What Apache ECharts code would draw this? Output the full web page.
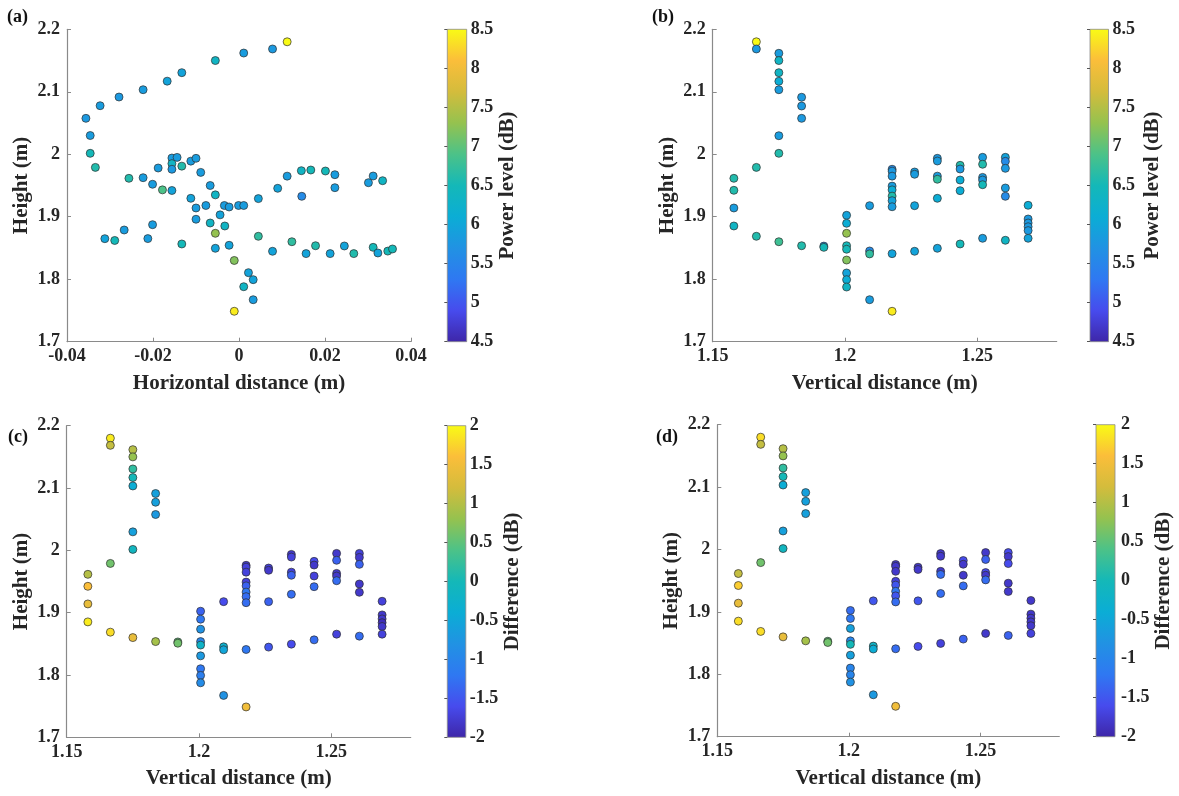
<!DOCTYPE html>
<html><head><meta charset="utf-8">
<script src="https://cdn.jsdelivr.net/npm/echarts@6/dist/echarts.min.js"></script>
<style>html,body{margin:0;padding:0;background:#fff}#c{width:1179px;height:796px}</style>
</head><body><div id="c"></div><script>
// ---------- DATA ----------
// Panel (a): horizontal distance vs height, power level
const horizX = [-0.0356,-0.0346,-0.0346,-0.0334,-0.0323,-0.0279,-0.0223,-0.0167,-0.0133,-0.0055,0.0011,0.0078,0.0112,
  -0.0256,-0.0223,-0.0201,-0.0178,-0.0156,-0.0188,-0.0156,-0.0156,-0.0156,-0.0144,-0.0133,-0.0112,-0.0100,-0.0089,-0.0067,-0.0055,
  -0.0112,-0.0100,-0.0100,-0.0077,-0.0067,-0.0044,-0.0034,-0.0023,-0.0001,-0.0033,-0.0055,-0.0055,-0.0023,-0.0011,-0.0011,
  -0.0312,-0.0289,-0.0267,-0.0212,-0.0201,-0.0133,
  0.0011,0.0045,0.0090,0.0146,0.0223,0.0301,0.0334,0.0045,0.0022,0.0033,0.0011,0.0033,
  0.0078,0.0123,0.0156,0.0178,0.0212,0.0245,0.0267,0.0312,0.0323,0.0346,0.0357,
  0.0112,0.0145,0.0167,0.0201,0.0223,0.0312];
const horizY = [2.0575,2.030,2.0015,1.979,2.0777,2.0916,2.1033,2.117,2.1306,2.150,2.162,2.1685,2.180,
  1.9615,1.9625,1.952,1.943,1.942,1.978,1.994,1.985,1.976,1.995,1.981,1.989,1.9935,1.971,1.950,1.935,
  1.9295,1.914,1.896,1.918,1.890,1.903,1.918,1.9156,1.918,1.8852,1.8735,1.8495,1.8543,1.830,1.7487,
  1.8649,1.862,1.8788,1.865,1.8873,1.8564,
  1.918,1.929,1.9455,1.9327,1.9465,1.9545,1.9577,1.8687,1.8105,1.7993,1.788,1.7672,
  1.8447,1.860,1.841,1.8536,1.841,1.8532,1.841,1.851,1.842,1.845,1.8484,
  1.965,1.9737,1.9748,1.9732,1.9673,1.9652];
const powerA = [5.8,5.85,6.5,6.6,5.85,5.8,5.85,5.95,5.95,6.35,5.85,5.8,8.5,
  6.6,5.85,5.85,6.9,5.95,5.85,5.85,6.35,5.8,5.85,6.6,5.85,5.85,5.85,5.85,6.35,
  5.95,5.85,5.85,5.85,6.35,5.95,5.85,5.85,5.85,6.35,7.3,5.95,5.95,7.2,8.4,
  5.95,6.5,5.85,5.85,5.85,6.5,
  5.85,5.95,5.95,5.6,5.85,5.85,6.35,6.7,5.95,5.95,6.35,5.85,
  5.95,6.7,5.95,6.6,5.95,5.95,6.6,6.5,5.95,6.5,6.5,
  5.85,6.35,6.5,6.5,5.85,5.85];

// Panels (b)-(d): vertical distance vs height
const vertX = [1.158,1.158,1.158,1.158, 1.1665,1.1665,1.1665,1.1665,
  1.175,1.175,1.175,1.175,1.175,1.175,1.175,1.175, 1.1836,1.1836,1.1836,1.1836, 1.192,1.192,
  1.2006,1.2006,1.2006,1.2006,1.2006,1.2006,1.2006,1.2006,1.2006, 1.2093,1.2093,1.2093,1.2093,
  1.2178,1.2178,1.2178,1.2178,1.2178,1.2178,1.2178,1.2178,1.2178,1.2178, 1.2263,1.2263,1.2263,1.2263,
  1.2349,1.2349,1.2349,1.2349,1.2349,1.2349, 1.2435,1.2435,1.2435,1.2435,1.2435,
  1.252,1.252,1.252,1.252,1.252,1.252, 1.2606,1.2606,1.2606,1.2606,1.2606,1.2606,
  1.2692,1.2692,1.2692,1.2692,1.2692,1.2692];
const vertY = [1.9615,1.9423,1.914,1.8852, 2.18,2.1685,1.979,1.8687,
  2.1616,2.15,2.1306,2.1168,2.1033,2.0297,2.0015,1.860, 2.0912,2.0772,2.0575,1.8536, 1.853,1.851,
  1.9023,1.8895,1.8735,1.8536,1.848,1.8307,1.810,1.7993,1.7875, 1.9177,1.8452,1.8405,1.7672,
  1.976,1.973,1.965,1.949,1.943,1.933,1.9257,1.916,1.8409,1.7487, 1.9716,1.968,1.9177,1.8447,
  1.9935,1.9892,1.965,1.96,1.9295,1.8495, 1.9823,1.9764,1.9588,1.9417,1.8564,
  1.9951,1.984,1.963,1.9588,1.9513,1.8655, 1.9951,1.9887,1.9775,1.946,1.9327,1.8623,
  1.9183,1.8964,1.89,1.884,1.8778,1.8655];
const powerB = [6.6,6.6,5.85,6.35, 8.5,5.8,6.6,6.6,
  5.85,6.35,6.35,6.1,5.85,5.85,6.6,6.8, 5.8,5.8,5.8,6.6, 5.6,6.5,
  5.95,6.1,7.3,6.5,6.5,7.2,5.95,6.1,6.35, 5.85,5.6,6.7,5.85,
  5.6,5.8,5.8,5.85,6.1,6.6,5.95,5.85,5.95,8.4, 5.85,5.85,5.95,5.95,
  5.8,5.85,5.85,6.7,6.1,5.95, 6.6,5.8,6.1,6.1,6.5,
  5.85,6.6,5.8,5.8,6.5,5.85, 5.95,5.6,5.8,5.85,5.6,6.35,
  6.1,5.8,5.8,5.8,5.8,5.95];
const diffC = [1.0,1.6,1.4,1.9, 1.9,1.1,0.6,1.8,
  1.0,0.8,0.2,0.0,-0.4,-0.6,-0.1,1.4, -0.6,-0.6,-0.7,0.9, 0.5,0.6,
  -1.4,-1.2,-0.8,-1.0,-0.2,-0.7,-1.2,-1.1,-0.9, -1.6,-0.3,-0.5,-0.8,
  -1.8,-1.7,-1.7,-1.7,-1.4,-1.2,-1.3,-1.3,-1.2,1.5, -1.7,-1.8,-1.4,-1.5,
  -1.8,-1.7,-1.7,-1.4,-1.3,-1.6, -1.6,-1.8,-1.7,-1.3,-1.3,
  -1.8,-1.4,-1.8,-1.8,-1.3,-1.7, -1.7,-1.8,-1.4,-1.8,-1.8,-1.3,
  -1.7,-1.8,-1.8,-1.9,-1.8,-1.7];
const diffD = [1.1,1.7,1.4,1.8, 1.8,1.1,0.6,1.8,
  1.0,0.8,0.2,0.0,-0.4,-0.6,-0.1,1.4, -0.6,-0.6,-0.6,0.9, 0.5,0.6,
  -1.3,-1.2,-0.6,-1.0,0.0,-0.6,-1.0,-1.0,-0.8, -1.5,-0.2,-0.4,-0.7,
  -1.8,-1.8,-1.8,-1.7,-1.5,-1.2,-1.5,-1.3,-1.3,1.5, -1.8,-1.8,-1.5,-1.6,
  -1.8,-1.8,-1.8,-1.3,-1.3,-1.7, -1.6,-1.8,-1.8,-1.3,-1.4,
  -1.8,-1.4,-1.6,-1.8,-1.3,-1.8, -1.6,-1.8,-1.6,-1.8,-1.8,-1.4,
  -1.8,-1.8,-1.8,-1.8,-1.8,-1.7];

const panelLabels = ['(a)','(b)','(c)','(d)'];
const xNames = ['Horizontal distance (m)','Vertical distance (m)','Vertical distance (m)','Vertical distance (m)'];
const yName = 'Height (m)';
const cbNames = ['Power level (dB)','Power level (dB)','Difference (dB)','Difference (dB)'];
const cbRanges = [[4.5,8.5],[4.5,8.5],[-2,2],[-2,2]];
const vertTicks = [1.15,1.2,1.25];

// ---------- STYLE ----------
const FONT = '"Liberation Serif","Times New Roman",serif';
const TXT = '#262626';
const AX = '#8a8a8a';
const PARULA = ['#3E26A8','#474BED','#2F78F2','#2192E3','#0BADD5','#14B8B8','#4CC288','#95C24F','#D4BC3C','#FBBE3A','#F9FB15'];

const plotGrids = [
  {left:67, top:29.3, width:344, height:312.4},
  {left:712.7, top:29.3, width:344, height:312.4},
  {left:66.7, top:425.7, width:344, height:311.6},
  {left:717.3, top:424.7, width:342, height:312}
];
const cbGrids = [
  {left:447.3, top:29.3, width:19.4, height:312.4},
  {left:1090, top:29.3, width:18.5, height:312.4},
  {left:447.3, top:425.7, width:18.5, height:311.6},
  {left:1096, top:424.7, width:19, height:312}
];
const cbNameGaps = [30, 34, 27, 37];
const cbLabelMargins = [4, 4, 4, 6];
const labelPos = [[7,8],[652,8],[8,428],[656,428]];

function zip(xs, ys, vs){ return xs.map((x,i)=>[x, ys[i], vs[i]]); }
const seriesData = [zip(horizX,horizY,powerA), zip(vertX,vertY,powerB), zip(vertX,vertY,diffC), zip(vertX,vertY,diffD)];

const labelStyle = {fontFamily:FONT, fontWeight:'bold', fontSize:18, color:TXT};
const nameStyle = {fontFamily:FONT, fontWeight:'bold', fontSize:21, color:TXT};

const grid = [], xAxis = [], yAxis = [], series = [], visualMap = [], graphic = [];
for (let i=0;i<4;i++){
  grid.push(Object.assign({containLabel:false}, plotGrids[i]));
}
for (let i=0;i<4;i++){
  const g = cbGrids[i];
  grid.push(Object.assign({containLabel:false, show:true, borderColor:'#8a8a8a', borderWidth:0.8,
    backgroundColor:{type:'linear', x:0, y:1, x2:0, y2:0,
      colorStops: PARULA.map((c,k)=>({offset:k/(PARULA.length-1), color:c}))}}, g));
}
for (let i=0;i<4;i++){
  const isA = i===0;
  xAxis.push({
    gridIndex:i, type:'value',
    min: isA ? -0.04 : 1.15, max: isA ? 0.04 : 1.28, interval: isA ? 0.02 : 0.05,
    name: xNames[i], nameLocation:'middle', nameGap:31, nameTextStyle:nameStyle,
    axisLine:{show:true, onZero:false, lineStyle:{color:AX, width:1.2}},
    axisTick: isA ? {show:true, inside:true, length:4, lineStyle:{color:AX}}
                  : {show:true, inside:true, length:4, lineStyle:{color:AX}, customValues:vertTicks},
    axisLabel: isA ? Object.assign({margin:6}, labelStyle)
                   : Object.assign({margin:6, customValues:vertTicks}, labelStyle),
    splitLine:{show:false}
  });
  yAxis.push({
    gridIndex:i, type:'value', min:1.7, max:2.2, interval:0.1,
    name: yName, nameLocation:'middle', nameGap:35, nameRotate:90, nameTextStyle:nameStyle,
    axisLine:{show:true, onZero:false, lineStyle:{color:AX, width:1.2}},
    axisTick:{show:true, inside:true, length:4, lineStyle:{color:AX}},
    axisLabel:Object.assign({margin:7}, labelStyle),
    splitLine:{show:false}
  });
  series.push({
    type:'scatter', xAxisIndex:i, yAxisIndex:i, symbol:'circle', symbolSize:8,
    itemStyle:{borderColor:'#2e2e2e', borderWidth:0.7, opacity:1},
    emphasis:{disabled:true}, silent:true,
    data: seriesData[i]
  });
  visualMap.push({
    type:'continuous', show:false, seriesIndex:i, dimension:2,
    min:cbRanges[i][0], max:cbRanges[i][1], inRange:{color:PARULA}
  });
}
for (let i=0;i<4;i++){
  xAxis.push({gridIndex:4+i, type:'value', min:0, max:1, show:false});
  yAxis.push({
    gridIndex:4+i, type:'value', position:'right',
    min:cbRanges[i][0], max:cbRanges[i][1], interval:0.5,
    name: cbNames[i], nameLocation:'middle', nameGap:cbNameGaps[i], nameRotate:90, nameTextStyle:nameStyle,
    axisLine:{show:false},
    axisTick:{show:true, inside:true, length:3, lineStyle:{color:'#555'}},
    axisLabel:Object.assign({margin:cbLabelMargins[i]}, labelStyle),
    splitLine:{show:false}
  });
}
for (let i=0;i<4;i++){
  graphic.push({type:'text', left:labelPos[i][0], top:labelPos[i][1],
    style:{text:panelLabels[i], font:'bold 18px '+FONT, fill:'#111'}});
}

const chart = echarts.init(document.getElementById('c'), null, {renderer:'canvas'});
chart.setOption({animation:false, backgroundColor:'#fff', grid, xAxis, yAxis, series, visualMap, graphic});
</script></body></html>
